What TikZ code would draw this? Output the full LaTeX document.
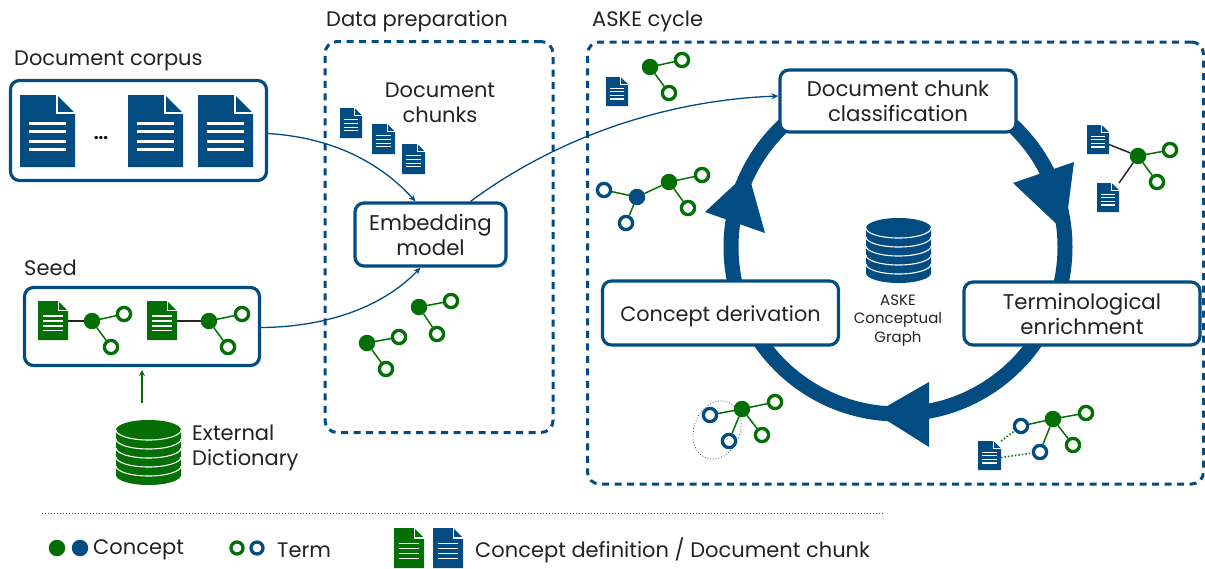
\documentclass[tikz,border=0pt]{standalone}
\usepackage{fontspec}
\setmainfont{Poppins}
\usetikzlibrary{arrows.meta}
\definecolor{navy}{HTML}{024C81}
\definecolor{grn}{HTML}{046F04}
\definecolor{ink}{HTML}{222222}
\newcommand{\docicon}[6]{% name x y w h colour
  \begin{scope}[shift={(#2,#3)},x=#4pt,y=-#5pt]
    \fill[#6] (0,0) -- (.67,0) -- (1,.25) -- (1,1) -- (0,1) -- cycle;
    \pgfmathsetlengthmacro{\docrule}{#5*0.042pt}
    \pgfmathsetlengthmacro{\docfold}{#5*0.022pt+0.3pt}
    \draw[white,line width=\docfold] (.67,0) -- (.67,.25) -- (1,.25);
    \foreach \yy in {.39,.51,.64,.76}{\draw[white,line width=\docrule] (.17,\yy) -- (.83,\yy);}
    \node[minimum width=#4pt,minimum height=#5pt,inner sep=0pt,outer sep=0pt] (#1) at (.5,.5) {};
  \end{scope}}
\newcommand{\dbstack}[5]{% name cx top rx colour
  \fill[#5] ({#2-#4},{#3+10}) arc[start angle=180,end angle=360,x radius=#4,y radius=10]
     -- ({#2+#4},{#3+55}) arc[start angle=0,end angle=180,x radius=#4,y radius=10] -- cycle;
  \foreach \ii in {0,1,2,3,4}{
    \draw[white,line width=1.1pt] ({#2-#4},{#3+10+\ii*9}) arc[start angle=180,end angle=0,x radius=#4,y radius=10];}
  \node[minimum width=#4pt,minimum height=10pt,inner sep=0pt] (#1) at (#2,#3+32) {};}
\tikzset{
  x=1pt,y=-1pt,
  boxn/.style={draw=navy,line width=3.2pt,rounded corners=9pt,fill=white,inner sep=0pt,align=center,text=ink,font=\fontsize{21.3}{25}\selectfont},
  dashbox/.style={draw=navy,line width=3pt,rounded corners=12pt,dash pattern=on 7pt off 5.5pt,inner sep=0pt},
  lab/.style={text=ink,font=\fontsize{21}{25}\selectfont,inner sep=0pt,align=left},
  conceptg/.style={circle,fill=grn,minimum size=16.5pt,inner sep=0pt,outer sep=0pt},
  conceptb/.style={circle,fill=navy,minimum size=16.5pt,inner sep=0pt,outer sep=0pt},
  termg/.style={circle,draw=grn,fill=white,line width=3.3pt,minimum size=13.2pt,inner sep=0pt},
  termb/.style={circle,draw=navy,fill=white,line width=3.3pt,minimum size=13.2pt,inner sep=0pt},
  edgeg/.style={draw=grn,line width=1.5pt},
  edgek/.style={draw=black!85,line width=1.5pt},
  edged/.style={draw=grn,line width=1.5pt,dotted},
  flow/.style={draw=navy,line width=1.3pt,-{Stealth[length=7pt,width=6pt]}},
  ring/.style={draw=navy,line width=15pt},
  ringhead/.style={fill=navy},
}
\begin{document}
\begin{tikzpicture}
\useasboundingbox (0,0) rectangle (1205,568);
% dashed frames
\node[dashbox,minimum width=228pt,minimum height=391pt] (prep) at (439,237) {};
\node[dashbox,minimum width=616pt,minimum height=442pt] (cycle) at (895.5,263) {};
% labels
\node[lab,anchor=west] (lcorpus) at (14,60.5) {Document corpus};
\node[lab,anchor=west] (lseed) at (24,268) {Seed};
\node[lab,anchor=west] (lprep) at (326,21.5) {Data preparation};
\node[lab,anchor=west] (lcycle) at (592,21.5) {ASKE cycle};
\node[lab,align=center] (lchunks) at (440,102.5) {Document\\chunks};
\node[lab,anchor=west] (ldict) at (192,447.5) {External\\Dictionary};
% corpus
\node[boxn,minimum width=256pt,minimum height=100pt] (corpus) at (138.5,130.5) {};
\docicon{c1}{20}{95}{55}{72}{navy}
\docicon{c2}{128}{95}{55}{72}{navy}
\docicon{c3}{198}{95}{55}{72}{navy}
\node[text=black,inner sep=0pt,font=\bfseries\fontsize{17}{17}\selectfont] (cdots) at (101,138) {...};
% seed
\node[boxn,minimum width=235pt,minimum height=78pt] (seed) at (142,326.5) {};
\docicon{s1}{38}{301}{30}{39}{grn}
\docicon{s2}{147}{301}{30}{39}{grn}
\node[conceptg] (sa) at (92,321) {};
\node[termg] (sa1) at (124,314) {};
\node[termg] (sa2) at (111,347) {};
\node[conceptg] (sb) at (209,321) {};
\node[termg] (sb1) at (242,314) {};
\node[termg] (sb2) at (228,347) {};
\draw[edgek] (s1.east |- sa) -- (sa);
\draw[edgek] (s2.east |- sb) -- (sb);
\draw[edgeg] (sa)--(sa1) (sa)--(sa2) (sb)--(sb1) (sb)--(sb2);
% dictionary
\dbstack{dict}{148.5}{420}{32.5}{grn}
\coordinate (dictout) at (142,403);
\draw[draw=grn,line width=1.2pt,-{Stealth[length=6pt,width=6pt]},shorten >=3pt] (dictout) -- (seed.south -| dictout);
% data preparation
\docicon{d1}{340}{108}{22}{30}{navy}
\docicon{d2}{372}{124}{23}{30}{navy}
\docicon{d3}{402}{144}{23}{30}{navy}
\node[boxn,minimum width=151pt,minimum height=63pt] (emb) at (430.5,234.5) {Embedding\\model};
\node[conceptg] (pa) at (419,307) {};
\node[termg] (pa1) at (451,301) {};
\node[termg] (pa2) at (437,334) {};
\node[conceptg] (pb) at (367,343) {};
\node[termg] (pb1) at (399,337) {};
\node[termg] (pb2) at (386,369) {};
\draw[edgeg] (pa)--(pa1) (pa)--(pa2) (pb)--(pb1) (pb)--(pb2);
% ring
\coordinate (hub) at (898,247);
\draw[ring] (hub) circle[radius=167];
\fill[ringhead] (1013,183) -- (1074,162) -- (1065,232) -- cycle;
\fill[ringhead] (705,212) -- (765,233) -- (748,172) -- cycle;
\fill[ringhead] (929,382) -- (929,447) -- (875,413) -- cycle;
% boxes on the ring
\node[boxn,minimum width=236pt,minimum height=62pt] (cls) at (898,101) {Document chunk\\classification};
\node[boxn,minimum width=236pt,minimum height=64pt] (der) at (720.5,313) {\rule{0pt}{22pt}\fontsize{20.8}{25}\selectfont Concept derivation};
\node[boxn,minimum width=236pt,minimum height=63pt] (enr) at (1082,313.5) {Terminological\\enrichment};
% flows
\draw[flow] ([yshift=-3pt]corpus.east) .. controls (340,138) and (385,168) .. ([xshift=-15pt]emb.north);
\draw[flow] ([yshift=-1pt]seed.east) .. controls (330,327) and (385,305) .. ([xshift=-10pt]emb.south);
\draw[flow] ([xshift=40pt]emb.north) .. controls (560,135) and (670,100) .. ([yshift=5pt]cls.west);
% central store
\dbstack{store}{898.5}{218}{32.5}{navy}
\node[text=ink,align=center,inner sep=0pt,font=\fontsize{15}{18.5}\selectfont] (lstore) at (898,320.5) {ASKE\\Conceptual\\Graph};
% graph top left
\docicon{g1}{606}{77}{22}{29}{navy}
\node[conceptg] (ga) at (650,67) {};
\node[termg] (ga1) at (682,60) {};
\node[termg] (ga2) at (669,93) {};
\draw[edgeg] (ga)--(ga1) (ga)--(ga2);
% graph left
\node[termb] (gb1) at (604,190) {};
\node[termb] (gb2) at (626,223) {};
\node[conceptb] (gb) at (637,197) {};
\node[conceptg] (gc) at (669,182) {};
\node[termg] (gc1) at (702,175) {};
\node[termg] (gc2) at (688,208) {};
\draw[edgeg] (gb)--(gb1) (gb)--(gb2) (gb)--(gc) (gc)--(gc1) (gc)--(gc2);
% graph right
\docicon{g2}{1087}{125}{22}{29}{navy}
\docicon{g3}{1097}{183}{22}{29}{navy}
\node[conceptg] (gd) at (1138,156) {};
\node[termg] (gd1) at (1170,150) {};
\node[termg] (gd2) at (1157,182) {};
\draw[edgeg] (gd)--(gd1) (gd)--(gd2);
\draw[edgek] ([yshift=-5pt]g2.east) -- (gd);
\draw[edgek] (g3.north east) -- (gd);
% graph bottom left
\draw[black!70,line width=.8pt,dotted,rotate around={-22:(717,430)}] (717,430) ellipse[x radius=23,y radius=30];
\node[conceptg] (ge) at (742,409) {};
\node[termg] (ge1) at (775,402) {};
\node[termg] (ge2) at (762,435) {};
\node[termb] (ge3) at (710,415) {};
\node[termb] (ge4) at (729,441) {};
\draw[edgeg] (ge)--(ge1) (ge)--(ge2) (ge)--(ge3) (ge)--(ge4);
% graph bottom right
\docicon{g4}{978}{441}{23}{29}{navy}
\node[conceptg] (gf) at (1053,419) {};
\node[termg] (gf1) at (1086,413) {};
\node[termg] (gf2) at (1073,445) {};
\node[termb] (gf3) at (1021,426) {};
\node[termb] (gf4) at (1040,452) {};
\draw[edgeg] (gf)--(gf1) (gf)--(gf2) (gf)--(gf3) (gf)--(gf4);
\draw[edged] (g4.north east) -- (gf3);
\draw[edged] ([yshift=-2pt]g4.east) -- (gf4);
% legend
\coordinate (rulea) at (42,513.5);
\coordinate (ruleb) at (884,513.5);
\draw[black!75,line width=1pt,dotted] (rulea) -- (ruleb);
\node[conceptg] (k1) at (57,548) {};
\node[conceptb] (k2) at (80,548) {};
\node[lab,anchor=west] (k3) at (93,550) {Concept};
\node[termg,minimum size=12pt] (k4) at (237,548) {};
\node[termb,minimum size=12pt] (k5) at (257,548) {};
\node[lab,anchor=west] (k6) at (277,550) {Term};
\docicon{k7}{394}{528}{30}{40}{grn}
\docicon{k8}{433}{528}{30}{40}{navy}
\node[lab,anchor=west] (k9) at (475,550) {Concept definition / Document chunk};
\end{tikzpicture}
\end{document}
